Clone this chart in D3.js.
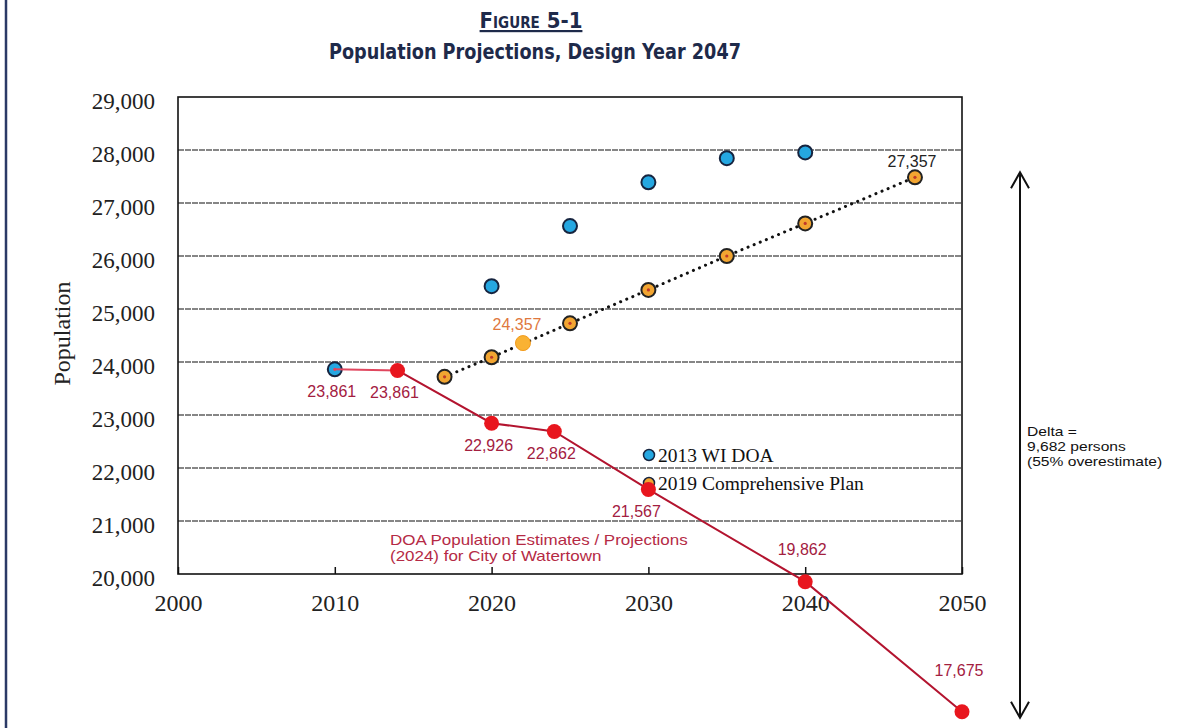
<!DOCTYPE html>
<html>
<head>
<meta charset="utf-8">
<script src="https://cdn.jsdelivr.net/npm/d3@7"></script>
<style>
  body { margin: 0; background: #fff; }
  svg { display: block; }
</style>
</head>
<body>
<div id="chart"></div>
<script>
// values
const yTicks = [20000, 21000, 22000, 23000, 24000, 25000, 26000, 27000, 28000, 29000];
const xTicks = [2000, 2010, 2020, 2030, 2040, 2050];

// 2013 WI DOA projections
const doa2013Years = [2010, 2020, 2025, 2030, 2035, 2040];
const doa2013Values = [23861, 25430, 26565, 27390, 27845, 27955];

// 2019 Comprehensive Plan (dotted trend)
const planYears = [2017, 2020, 2025, 2030, 2035, 2040, 2047];
const planValues = [23720, 24090, 24730, 25360, 26000, 26615, 27485];
const planMidYear = [2022];
const planMidValue = [24357];

// DOA estimates / projections (2024) overlay
const doa2024Years = [2010, 2014, 2020, 2024, 2030, 2040, 2050];
const doa2024Values = [23861, 23840, 22845, 22690, 21595, 19855, 17400];
const doa2024Labels = ["23,861", "23,861", "22,926", "22,862", "21,567", "19,862", "17,675"];

const W = 1180, H = 728;
const svg = d3.select("#chart").append("svg")
    .attr("width", W).attr("height", H);

const x = d3.scaleLinear().domain([2000, 2050]).range([178, 962]);
const y = d3.scaleLinear().domain([20000, 29000]).range([574, 97]);

const serif = "'Liberation Serif', 'Times New Roman', serif";
const sans = "'Liberation Sans', Arial, sans-serif";
const maroon = "#a3203f";

// page frame on the left
svg.append("line").attr("x1", 6).attr("x2", 6).attr("y1", 0).attr("y2", H)
    .attr("stroke", "#2b3a66").attr("stroke-width", 2.5);

// title
svg.append("text")
    .attr("x", 531).attr("y", 28)
    .attr("text-anchor", "middle")
    .attr("fill", "#1e2a4a")
    .style("font-family", "'DejaVu Sans Condensed', 'Roboto', sans-serif")
    .style("font-weight", "bold")
    .style("font-size", "22px")
    .style("font-variant", "small-caps")
    .style("text-decoration", "underline")
    .text("Figure 5-1");

svg.append("text")
    .attr("x", 535).attr("y", 59)
    .attr("text-anchor", "middle")
    .attr("fill", "#1e2a4a")
    .attr("textLength", 412).attr("lengthAdjust", "spacingAndGlyphs")
    .style("font-family", "'DejaVu Sans Condensed', 'Roboto', sans-serif")
    .style("font-weight", "bold")
    .style("font-size", "21px")
    .text("Population Projections, Design Year 2047");

// gridlines
svg.append("g")
    .selectAll("line")
    .data(yTicks.slice(1, -1))
    .join("line")
    .attr("x1", x(2000)).attr("x2", x(2050))
    .attr("y1", d => y(d)).attr("y2", d => y(d))
    .attr("stroke", "#868686")
    .attr("stroke-width", 2)
    .attr("stroke-dasharray", "6,1");

// y axis labels
const yAxis = d3.axisLeft(y).tickValues(yTicks).tickSize(0).tickPadding(23)
    .tickFormat(d3.format(","));
svg.append("g")
    .attr("transform", `translate(${x(2000)},0)`)
    .call(yAxis)
    .call(g => g.select(".domain").remove())
    .call(g => g.selectAll("text")
        .attr("dy", "0.5em")
        .style("font-family", serif)
        .style("font-size", "23px")
        .attr("fill", "#222"));

// x axis labels and inner ticks
const xAxis = d3.axisBottom(x).tickValues(xTicks).tickSize(-7).tickPadding(20)
    .tickFormat(d3.format("d"));
svg.append("g")
    .attr("transform", `translate(0,${y(20000)})`)
    .call(xAxis)
    .call(g => g.select(".domain").remove())
    .call(g => g.selectAll("line").attr("stroke", "#111").attr("stroke-width", 1.5))
    .call(g => g.selectAll("text")
        .style("font-family", serif)
        .style("font-size", "24px")
        .attr("fill", "#222"));

// plot box
svg.append("rect")
    .attr("x", x(2000)).attr("y", y(29000))
    .attr("width", x(2050) - x(2000)).attr("height", y(20000) - y(29000))
    .attr("fill", "none").attr("stroke", "#111").attr("stroke-width", 1.6);

svg.append("text")
    .attr("transform", `translate(70,${(y(20000) + y(29000)) / 2 - 2}) rotate(-90)`)
    .attr("text-anchor", "middle")
    .style("font-family", serif)
    .style("font-size", "24px")
    .attr("fill", "#222")
    .text("Population");

// 2019 plan dotted trend
const planPts = planYears.map((yr, i) => ({ year: yr, value: planValues[i] }));
const line = d3.line().x(d => x(d.year)).y(d => y(d.value));

svg.append("path")
    .datum(planPts)
    .attr("d", line)
    .attr("fill", "none")
    .attr("stroke", "#111")
    .attr("stroke-width", 3)
    .attr("stroke-linecap", "round")
    .attr("stroke-dasharray", "0.1,6.5");

const planG = svg.append("g").selectAll("g").data(planPts).join("g")
    .attr("transform", d => `translate(${x(d.year)},${y(d.value)})`);
planG.append("circle").attr("r", 7)
    .attr("fill", "#f2a531").attr("stroke", "#222").attr("stroke-width", 2);
planG.append("circle").attr("r", 1.6).attr("fill", "#c0392b");

svg.append("g").selectAll("circle")
    .data(planMidYear.map((yr, i) => ({ year: yr, value: planMidValue[i] })))
    .join("circle")
    .attr("cx", d => x(d.year)).attr("cy", d => y(d.value)).attr("r", 7.5)
    .attr("fill", "#f9b233").attr("stroke", "#f39c1e").attr("stroke-width", 1);

svg.append("text")
    .attr("x", x(planMidYear[0]) - 6).attr("y", y(planMidValue[0]) - 13)
    .attr("text-anchor", "middle")
    .style("font-family", sans).style("font-size", "16px")
    .attr("fill", "#e0783e")
    .text("24,357");

svg.append("text")
    .attr("x", x(2047) - 3).attr("y", y(planValues[planValues.length - 1]) - 10)
    .attr("text-anchor", "middle")
    .style("font-family", sans).style("font-size", "16px")
    .attr("fill", "#222")
    .text("27,357");

// 2013 WI DOA points
svg.append("g").selectAll("circle")
    .data(doa2013Years.map((yr, i) => ({ year: yr, value: doa2013Values[i] })))
    .join("circle")
    .attr("cx", d => x(d.year)).attr("cy", d => y(d.value)).attr("r", 7)
    .attr("fill", "#25a7e1").attr("stroke", "#16243f").attr("stroke-width", 2);

// legend
const legend = [
    { label: "2013 WI DOA", fill: "#25a7e1" },
    { label: "2019 Comprehensive Plan", fill: "#f2a531" }
];
const lg = svg.append("g").selectAll("g").data(legend).join("g")
    .attr("transform", (d, i) => `translate(649,${455 + i * 28})`);
lg.append("circle").attr("r", 5.5)
    .attr("fill", d => d.fill).attr("stroke", "#16243f").attr("stroke-width", 1.5);
lg.append("text").attr("x", 9).attr("dy", "0.35em")
    .style("font-family", serif).style("font-size", "19.5px")
    .attr("fill", "#111")
    .text(d => d.label);

// DOA 2024 overlay (runs past the plot box)
const doaPts = doa2024Years.map((yr, i) => ({ year: yr, value: doa2024Values[i], label: doa2024Labels[i] }));

svg.append("path")
    .datum(doaPts.slice(0, 2))
    .attr("d", line)
    .attr("fill", "none").attr("stroke", "#e0465e").attr("stroke-width", 2);
svg.append("path")
    .datum(doaPts.slice(1))
    .attr("d", line)
    .attr("fill", "none").attr("stroke", "#b3142f").attr("stroke-width", 2);

svg.append("g").selectAll("circle")
    .data(doaPts.slice(1))
    .join("circle")
    .attr("cx", d => x(d.year)).attr("cy", d => y(d.value)).attr("r", 7.5)
    .attr("fill", "#e8161e");

svg.append("circle")
    .attr("cx", x(2010)).attr("cy", y(doa2024Values[0])).attr("r", 1.6)
    .attr("fill", "#e0465e");

svg.append("g").selectAll("text")
    .data(doaPts)
    .join("text")
    .attr("x", d => x(d.year) + (d.year === 2030 ? -12 : -3))
    .attr("y", d => d.year <= 2030 ? y(d.value) + 28 : y(d.value) - (d.year === 2050 ? 36 : 27))
    .attr("text-anchor", "middle")
    .style("font-family", sans).style("font-size", "16px")
    .attr("fill", maroon)
    .text(d => d.label);

svg.append("text")
    .attr("transform", "translate(390,545) scale(1.17,1)")
    .style("font-family", sans).style("font-size", "14.5px")
    .attr("fill", "#b52a45")
    .selectAll("tspan")
    .data(["DOA Population Estimates / Projections", "(2024) for City of Watertown"])
    .join("tspan")
    .attr("x", 0).attr("dy", (d, i) => i ? 16.5 : 0)
    .text(d => d);

// delta arrow from plan 2047 down to DOA 2050
const arrowX = 1020;
const yTop = y(planValues[planValues.length - 1]) - 5;
const yBot = y(doa2024Values[doa2024Values.length - 1]) + 6;
const arrow = svg.append("g").attr("stroke", "#111").attr("stroke-width", 2).attr("fill", "none");
arrow.append("line").attr("x1", arrowX).attr("x2", arrowX).attr("y1", yTop).attr("y2", yBot);
arrow.append("path").attr("d", `M${arrowX - 9},${yTop + 16}L${arrowX},${yTop}L${arrowX + 9},${yTop + 16}`);
arrow.append("path").attr("d", `M${arrowX - 9},${yBot - 16}L${arrowX},${yBot}L${arrowX + 9},${yBot - 16}`);

svg.append("text")
    .attr("transform", "translate(1027,436) scale(1.2,1)")
    .style("font-family", sans).style("font-size", "13px")
    .attr("fill", "#111")
    .selectAll("tspan")
    .data(["Delta =", "9,682 persons", "(55% overestimate)"])
    .join("tspan")
    .attr("x", 0).attr("dy", (d, i) => i ? 15 : 0)
    .text(d => d);
</script>
</body>
</html>
